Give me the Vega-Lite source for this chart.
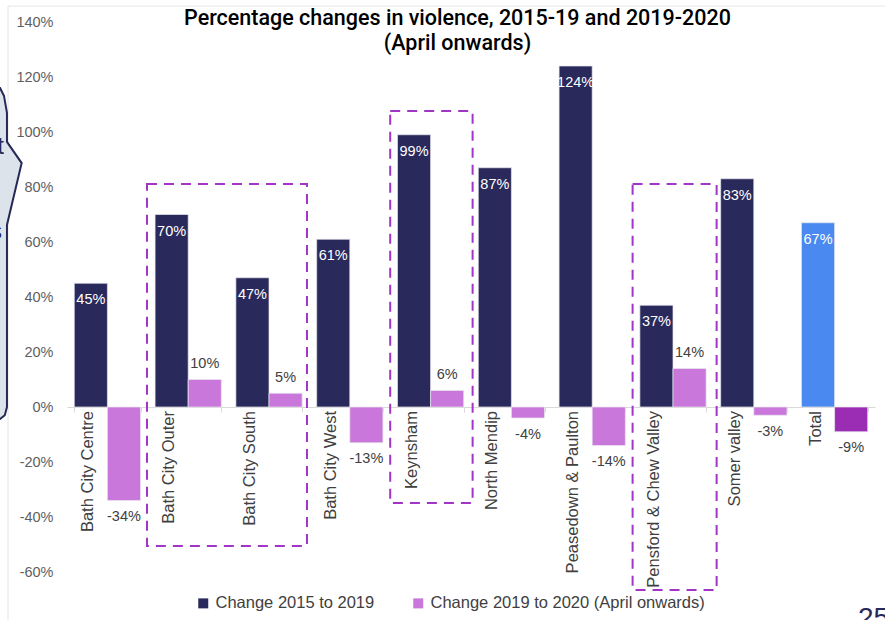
{
  "$schema": "https://vega.github.io/schema/vega-lite/v6.json",
  "width": 808,
  "height": 550,
  "autosize": {"type": "none"},
  "padding": {"left": 67, "top": 22, "right": 10, "bottom": 48},
  "config": {
    "view": {"stroke": null},
    "font": "Liberation Sans",
    "locale": {"number": {"decimal": ".", "thousands": ",", "grouping": [3], "currency": ["$", ""], "minus": "-"}}
  },
  "title": {
    "text": ["Percentage changes in violence, 2015-19 and 2019-2020", "(April onwards)"],
    "font": "Roboto",
    "fontSize": 21.5,
    "fontWeight": 500,
    "color": "#000000",
    "anchor": "middle",
    "frame": "group",
    "dx": -13.5,
    "offset": -49,
    "lineHeight": 25
  },
  "datasets": {
    "main": [
      {"region": "Bath City Centre", "series": "Change 2015 to 2019", "value": 0.45},
      {"region": "Bath City Centre", "series": "Change 2019 to 2020 (April onwards)", "value": -0.34},
      {"region": "Bath City Outer", "series": "Change 2015 to 2019", "value": 0.70},
      {"region": "Bath City Outer", "series": "Change 2019 to 2020 (April onwards)", "value": 0.10},
      {"region": "Bath City South", "series": "Change 2015 to 2019", "value": 0.47},
      {"region": "Bath City South", "series": "Change 2019 to 2020 (April onwards)", "value": 0.05},
      {"region": "Bath City West", "series": "Change 2015 to 2019", "value": 0.61},
      {"region": "Bath City West", "series": "Change 2019 to 2020 (April onwards)", "value": -0.13},
      {"region": "Keynsham", "series": "Change 2015 to 2019", "value": 0.99},
      {"region": "Keynsham", "series": "Change 2019 to 2020 (April onwards)", "value": 0.06},
      {"region": "North Mendip", "series": "Change 2015 to 2019", "value": 0.87},
      {"region": "North Mendip", "series": "Change 2019 to 2020 (April onwards)", "value": -0.04},
      {"region": "Peasedown & Paulton", "series": "Change 2015 to 2019", "value": 1.24},
      {"region": "Peasedown & Paulton", "series": "Change 2019 to 2020 (April onwards)", "value": -0.14},
      {"region": "Pensford & Chew Valley", "series": "Change 2015 to 2019", "value": 0.37},
      {"region": "Pensford & Chew Valley", "series": "Change 2019 to 2020 (April onwards)", "value": 0.14},
      {"region": "Somer valley", "series": "Change 2015 to 2019", "value": 0.83},
      {"region": "Somer valley", "series": "Change 2019 to 2020 (April onwards)", "value": -0.03},
      {"region": "Total", "series": "Change 2015 to 2019", "value": 0.67},
      {"region": "Total", "series": "Change 2019 to 2020 (April onwards)", "value": -0.09}
    ],
    "boxes": [
      {"x0": 0.99, "x1": 2.97, "y0": 0.811, "y1": -0.505},
      {"x0": 4.0, "x1": 5.02, "y0": 1.076, "y1": -0.349},
      {"x0": 7.0, "x1": 8.04, "y0": 0.811, "y1": -0.665}
    ],
    "callout": [
      {"o": 1, "x": -0.953, "y": 1.165},
      {"o": 2, "x": -0.829, "y": 1.160},
      {"o": 3, "x": -0.780, "y": 1.132},
      {"o": 4, "x": -0.743, "y": 1.070},
      {"o": 5, "x": -0.743, "y": 0.964},
      {"o": 6, "x": -0.561, "y": 0.887},
      {"o": 7, "x": -0.743, "y": 0.662},
      {"o": 8, "x": -0.743, "y": 0.0},
      {"o": 9, "x": -0.770, "y": -0.030},
      {"o": 10, "x": -0.829, "y": -0.044},
      {"o": 11, "x": -0.953, "y": -0.044}
    ],
    "notes": [
      {"x": -0.78, "y": 0.945, "t": "t", "color": "callout"},
      {"x": -0.805, "y": 0.636, "t": "s", "color": "callout"},
      {"x": 9.79, "y": -0.72, "t": "25", "color": "page"}
    ],
    "frame": [
      {"x0": -0.73, "x1": 12, "y0": 1.458, "y1": -1.2}
    ]
  },
  "resolve": {"scale": {"x": "independent"}},
  "layer": [
    {
      "layer": [
        {
          "data": {"name": "frame"},
          "mark": {"type": "rect", "filled": false, "stroke": "#e4e4e4", "strokeWidth": 1, "clip": false},
          "encoding": {
            "x": {"field": "x0", "type": "quantitative", "scale": {"domain": [0, 10], "nice": false, "zero": false}, "axis": null},
            "x2": {"field": "x1"},
            "y": {"field": "y0", "type": "quantitative", "scale": {"domain": [-0.6, 1.4], "nice": false, "zero": false}},
            "y2": {"field": "y1"}
          }
        },
        {
          "data": {"name": "callout"},
          "mark": {"type": "line", "fill": "#dde3ea", "stroke": "#262857", "strokeWidth": 2, "clip": false, "interpolate": "linear"},
          "encoding": {
            "x": {"field": "x", "type": "quantitative", "scale": {"domain": [0, 10], "nice": false, "zero": false}, "axis": null},
            "y": {"field": "y", "type": "quantitative", "scale": {"domain": [-0.6, 1.4], "nice": false, "zero": false}},
            "order": {"field": "o", "type": "quantitative"}
          }
        },
        {
          "data": {"name": "notes"},
          "mark": {"type": "text", "align": "right", "baseline": "middle", "clip": false, "font": "Liberation Sans"},
          "transform": [{"filter": "datum.color === 'callout'"}],
          "encoding": {
            "x": {"field": "x", "type": "quantitative", "scale": {"domain": [0, 10], "nice": false, "zero": false}, "axis": null},
            "y": {"field": "y", "type": "quantitative", "scale": {"domain": [-0.6, 1.4], "nice": false, "zero": false}},
            "text": {"field": "t"},
            "size": {"value": 24},
            "color": {"value": "#262857"}
          }
        },
        {
          "data": {"name": "notes"},
          "mark": {"type": "text", "align": "left", "baseline": "top", "clip": false, "font": "Liberation Sans"},
          "transform": [{"filter": "datum.color === 'page'"}],
          "encoding": {
            "x": {"field": "x", "type": "quantitative", "scale": {"domain": [0, 10], "nice": false, "zero": false}, "axis": null},
            "y": {"field": "y", "type": "quantitative", "scale": {"domain": [-0.6, 1.4], "nice": false, "zero": false}},
            "text": {"field": "t"},
            "size": {"value": 28},
            "color": {"value": "#2a295c"}
          }
        },
        {
          "data": {"name": "boxes"},
          "mark": {"type": "rect", "filled": false, "stroke": "#a335c6", "strokeWidth": 2, "strokeDash": [10, 7], "clip": false},
          "encoding": {
            "x": {"field": "x0", "type": "quantitative", "scale": {"domain": [0, 10], "nice": false, "zero": false}, "axis": null},
            "x2": {"field": "x1"},
            "y": {"field": "y0", "type": "quantitative", "scale": {"domain": [-0.6, 1.4], "nice": false, "zero": false}},
            "y2": {"field": "y1"}
          }
        }
      ]
    },
    {
      "data": {"name": "main"},
      "layer": [
        {
          "mark": {"type": "bar", "stroke": "#e8e8f0", "strokeWidth": 1, "strokeOpacity": 0.7},
          "encoding": {
            "x": {
              "field": "region", "type": "nominal", "sort": null,
              "scale": {"paddingInner": 0.18, "paddingOuter": 0.09},
              "axis": {"orient": "bottom", "offset": -165, "labels": false, "title": null, "domainColor": "#d9d9d9", "tickColor": "#d9d9d9", "tickSize": 5, "tickBand": "extent", "grid": false}
            },
            "xOffset": {"field": "series", "type": "nominal", "sort": null},
            "y": {
              "field": "value", "type": "quantitative",
              "scale": {"domain": [-0.6, 1.4], "nice": false, "zero": false},
              "axis": {"format": ".0%", "values": [-0.6, -0.4, -0.2, 0, 0.2, 0.4, 0.6, 0.8, 1.0, 1.2, 1.4], "grid": false, "ticks": false, "domain": false, "labelPadding": 14, "labelFontSize": 14.5, "labelColor": "#5f5f5f", "labelFont": "Liberation Sans", "title": null}
            },
            "color": {
              "field": "series", "type": "nominal",
              "scale": {"domain": ["Change 2015 to 2019", "Change 2019 to 2020 (April onwards)"], "range": ["#2a295c", "#c977da"]},
              "legend": {"orient": "none", "legendX": 128, "legendY": 573, "direction": "horizontal", "title": null, "symbolType": "square", "symbolSize": 100, "symbolStrokeWidth": 0, "labelFontSize": 16.5, "labelLimit": 500, "labelColor": "#404040", "labelFont": "Liberation Sans", "columnPadding": 35, "labelOffset": 4, "padding": 0},
              "condition": [
                {"test": "datum.region === 'Total' && datum.series === 'Change 2015 to 2019'", "value": "#4a8af0"},
                {"test": "datum.region === 'Total' && datum.series !== 'Change 2015 to 2019'", "value": "#9a2db3"}
              ]
            }
          }
        },
        {
          "transform": [{"filter": "datum.series === 'Change 2015 to 2019'"}],
          "mark": {"type": "text", "align": "center", "baseline": "middle", "dy": 17, "fontSize": 14.5, "color": "#ffffff", "font": "Liberation Sans"},
          "encoding": {
            "x": {"field": "region", "type": "nominal", "sort": null},
            "xOffset": {"field": "series", "type": "nominal", "sort": null},
            "y": {"field": "value", "type": "quantitative"},
            "text": {"field": "value", "type": "quantitative", "format": ".0%"}
          }
        },
        {
          "transform": [{"filter": "datum.series !== 'Change 2015 to 2019' && datum.value >= 0"}],
          "mark": {"type": "text", "align": "center", "baseline": "middle", "dy": -15.5, "fontSize": 14.5, "color": "#404040", "font": "Liberation Sans"},
          "encoding": {
            "x": {"field": "region", "type": "nominal", "sort": null},
            "xOffset": {"field": "series", "type": "nominal", "sort": null},
            "y": {"field": "value", "type": "quantitative"},
            "text": {"field": "value", "type": "quantitative", "format": ".0%"}
          }
        },
        {
          "transform": [{"filter": "datum.series !== 'Change 2015 to 2019' && datum.value < 0"}],
          "mark": {"type": "text", "align": "center", "baseline": "middle", "dy": 16.5, "fontSize": 14.5, "color": "#404040", "font": "Liberation Sans"},
          "encoding": {
            "x": {"field": "region", "type": "nominal", "sort": null},
            "xOffset": {"field": "series", "type": "nominal", "sort": null},
            "y": {"field": "value", "type": "quantitative"},
            "text": {"field": "value", "type": "quantitative", "format": ".0%"}
          }
        },
        {
          "transform": [{"filter": "datum.series === 'Change 2015 to 2019'"}],
          "mark": {"type": "text", "angle": 270, "align": "right", "baseline": "middle", "dx": -4, "dy": -19, "fontSize": 16.5, "color": "#404040", "font": "Liberation Sans"},
          "encoding": {
            "x": {"field": "region", "type": "nominal", "sort": null},
            "y": {"datum": 0, "type": "quantitative"},
            "text": {"field": "region", "type": "nominal"}
          }
        }
      ]
    }
  ]
}
